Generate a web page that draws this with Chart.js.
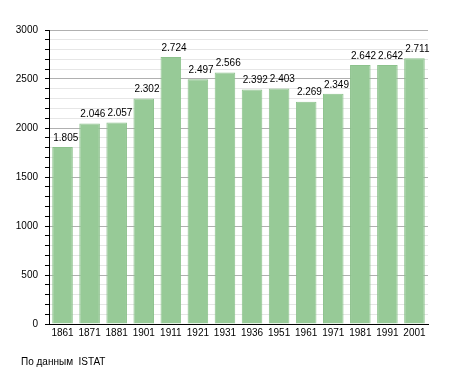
<!DOCTYPE html>
<html>
<head>
<meta charset="utf-8">
<script src="https://cdn.jsdelivr.net/npm/chart.js@4"></script>
<style>
  body { margin: 0; background: #fff; }
</style>
</head>
<body>
<canvas id="popChart" width="455" height="373"></canvas>
<script>
const years = ['1861', '1871', '1881', '1901', '1911', '1921', '1931', '1936', '1951', '1961', '1971', '1981', '1991', '2001'];
const population = [1805, 2046, 2057, 2302, 2724, 2497, 2566, 2392, 2403, 2269, 2349, 2642, 2642, 2711];
const valueLabels = ['1.805', '2.046', '2.057', '2.302', '2.724', '2.497', '2.566', '2.392', '2.403', '2.269', '2.349', '2.642', '2.642', '2.711'];
const sourceNote = 'По данным  ISTAT';

Chart.defaults.font.family = '"Liberation Sans", Arial, sans-serif';
Chart.defaults.font.size = 10;
Chart.defaults.color = '#000';

// value above each bar + the source line at the bottom
const labelsPlugin = {
    id: 'labels',
    afterDatasetsDraw(chart) {
        const ctx = chart.ctx;
        const bars = chart.getDatasetMeta(0).data;
        ctx.save();
        ctx.font = '10px "Liberation Sans", Arial, sans-serif';
        ctx.fillStyle = '#000';
        ctx.textAlign = 'left';
        ctx.textBaseline = 'bottom';
        bars.forEach((bar, i) => {
            ctx.fillText(valueLabels[i], bar.x - bar.width / 2 + 1, bar.y - 4);
        });
        ctx.textBaseline = 'middle';
        ctx.fillText(sourceNote, 21, 362);
        ctx.restore();
    }
};

new Chart(document.getElementById('popChart'), {
    type: 'bar',
    data: {
        labels: years,
        datasets: [{
            data: population,
            backgroundColor: '#97ca97',
            borderColor: '#8cc28c',
            borderWidth: 1,
            barPercentage: 0.76,
            categoryPercentage: 1
        }]
    },
    options: {
        responsive: false,
        animation: false,
        layout: { padding: { left: 0, right: 27, top: 30, bottom: 0 } },
        plugins: {
            legend: { display: false },
            tooltip: { enabled: false }
        },
        scales: {
            x: {
                grid: { display: false, drawTicks: false, tickLength: 0 },
                border: { color: '#000', width: 1 },
                ticks: { padding: 3, maxRotation: 0, autoSkip: false },
                afterFit: (scale) => { scale.height = 49; }
            },
            y: {
                min: 0,
                max: 3000,
                ticks: {
                    stepSize: 100,
                    autoSkip: false,
                    padding: 7,
                    callback: (v) => (v % 500 === 0 ? v : '')
                },
                grid: {
                    color: (c) => (c.tick && c.tick.value % 500 === 0 ? '#b0b0b0' : '#e6e6e6'),
                    tickColor: '#000',
                    tickLength: 4
                },
                border: { color: '#000', width: 1 },
                afterFit: (scale) => { scale.width = 49; }
            }
        }
    },
    plugins: [labelsPlugin]
});
</script>
</body>
</html>
